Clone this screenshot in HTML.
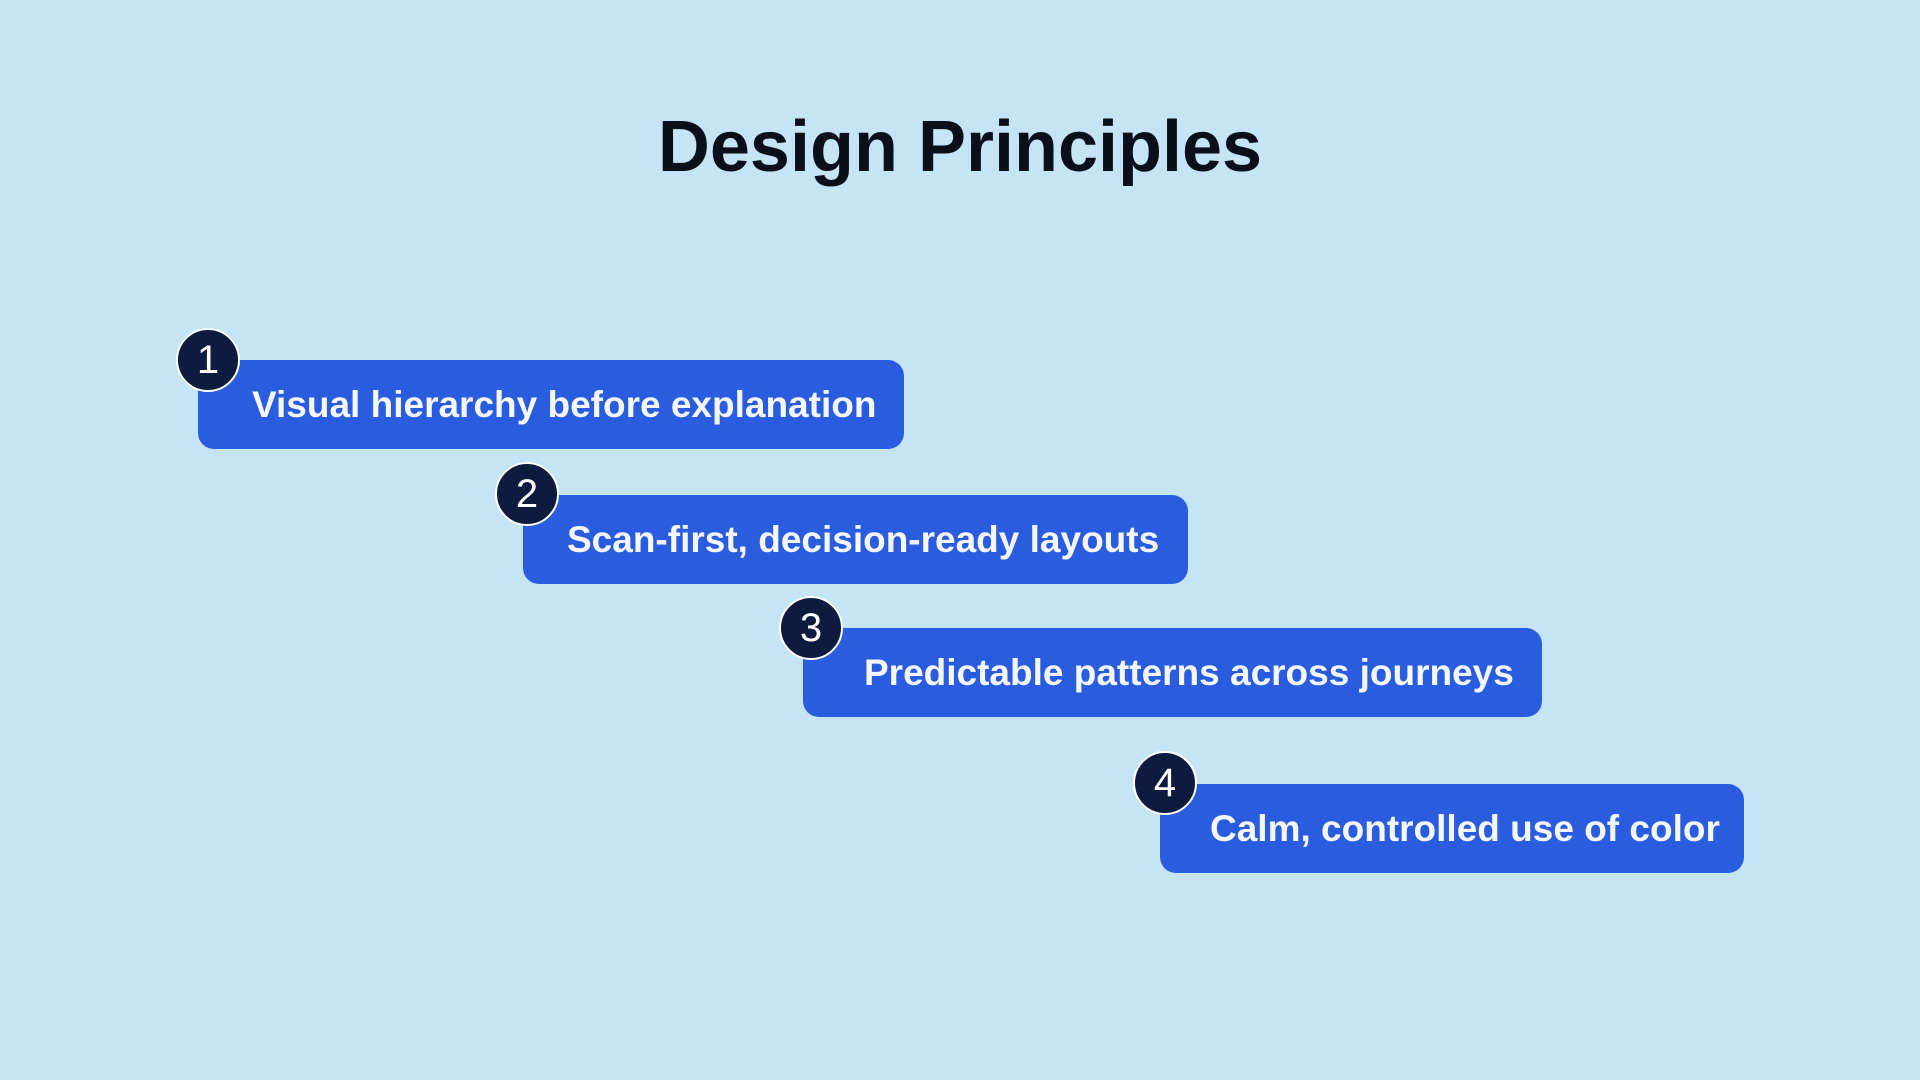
<!DOCTYPE html>
<html><head><meta charset="utf-8"><style>
html,body{margin:0;padding:0}
body{width:1920px;height:1080px;background:#c5e4f5;position:relative;overflow:hidden;font-family:"Liberation Sans",sans-serif}
h1{position:absolute;left:0;width:1920px;top:102px;margin:0;text-align:center;font-size:72px;font-weight:bold;color:#0b0f1a;line-height:90px}
.box{position:absolute;background:#2a5ce0;border-radius:16px;height:89px}
.t{position:absolute;top:0;line-height:89px;color:#f4f7ff;font-weight:bold;font-size:37px;white-space:nowrap}
.c{position:absolute;width:60px;height:60px;border-radius:50%;background:#0d1b3e;border:2px solid #fff;color:#fff;font-size:40px;text-align:center;line-height:60px;margin:-32px 0 0 -32px}
</style></head><body>
<h1>Design Principles</h1>
<div class="box" style="left:198px;top:360px;width:706px"><div class="t" style="left:54px">Visual hierarchy before explanation</div></div>
<div class="box" style="left:523px;top:495px;width:665px"><div class="t" style="left:44px">Scan-first, decision-ready layouts</div></div>
<div class="box" style="left:803px;top:628px;width:739px"><div class="t" style="left:61px">Predictable patterns across journeys</div></div>
<div class="box" style="left:1160px;top:784px;width:584px"><div class="t" style="left:50px">Calm, controlled use of color</div></div>
<div class="c" style="left:208px;top:360px">1</div>
<div class="c" style="left:527px;top:494px">2</div>
<div class="c" style="left:811px;top:628px">3</div>
<div class="c" style="left:1165px;top:783px">4</div>
</body></html>
